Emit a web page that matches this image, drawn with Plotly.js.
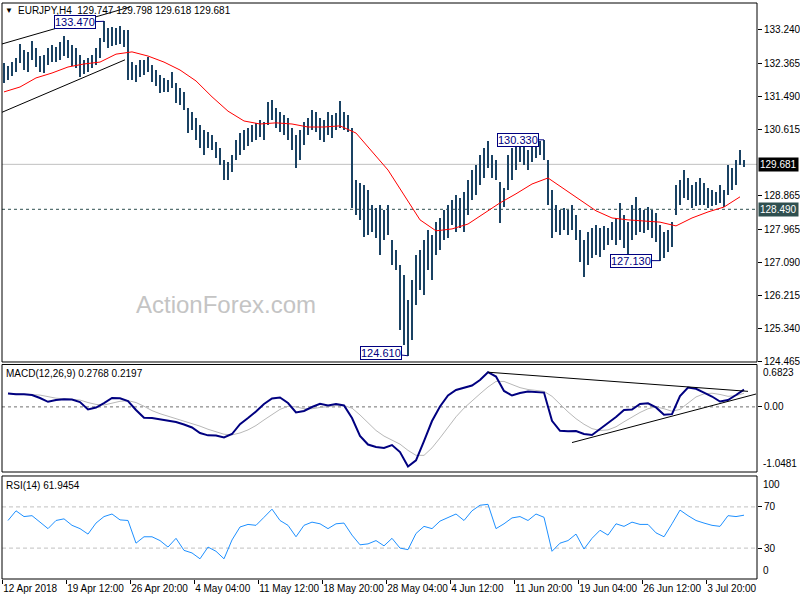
<!DOCTYPE html>
<html><head><meta charset="utf-8">
<script src="https://cdn.plot.ly/plotly-3.0.1.min.js"></script>
<style>html,body{margin:0;padding:0;background:#fff}#chart{width:800px;height:600px}</style>
</head><body><div id="chart"></div>
<script>
// EURJPY H4 bars (high / low), one per bar
const barHigh=[
132.37,132.29,132.39,132.50,132.87,132.71,132.66,132.95,132.76,132.55,
132.58,132.76,132.84,132.79,132.92,133.08,132.98,132.84,132.76,132.58,
132.45,132.50,132.58,132.76,133.03,133.47,133.29,133.32,133.29,133.35,
133.24,133.24,132.39,132.31,132.45,132.45,132.53,132.31,132.18,132.05,
131.97,131.92,132.13,131.84,131.70,131.60,131.17,131.07,130.91,130.72,
130.59,130.54,130.46,130.27,130.11,129.80,129.74,129.93,130.33,130.51,
130.59,130.64,130.72,130.78,130.86,130.80,131.33,131.39,131.17,131.07,
130.99,130.91,130.64,130.46,130.59,130.80,130.91,131.12,131.07,130.91,
130.86,131.07,130.99,131.04,131.36,131.07,130.99,130.64,129.27,129.19,
129.13,129.00,128.60,128.53,128.60,128.47,128.60,127.68,127.41,127.02,
126.75,126.09,126.62,127.28,127.41,127.68,127.94,127.81,128.15,128.26,
128.47,128.60,128.74,128.87,128.79,128.95,129.27,129.53,129.66,129.93,
130.11,130.30,129.93,129.80,129.21,129.06,129.93,130.11,130.25,130.31,
130.19,130.06,130.19,130.28,130.30,130.33,129.80,129.00,128.60,128.47,
128.53,128.47,128.60,128.34,127.94,127.68,127.89,128.00,128.07,128.00,
128.05,128.00,128.15,128.26,128.66,128.34,128.15,128.60,128.82,128.53,
128.47,128.55,128.47,128.39,128.07,127.89,127.94,128.15,129.13,129.27,
129.53,129.32,129.13,129.21,129.32,129.19,129.06,129.00,128.95,129.13,
129.00,129.66,129.58,129.80,130.06,129.80];
const barLow=[
131.84,131.92,132.02,132.13,132.37,132.18,132.13,132.45,132.26,132.13,
132.10,132.31,132.39,132.39,132.45,132.55,132.50,132.29,132.23,132.00,
132.08,132.13,132.23,132.31,132.50,132.92,132.76,132.82,132.84,132.87,
132.79,131.92,131.92,131.86,132.00,132.05,132.13,131.86,131.76,131.57,
131.60,131.60,131.70,131.31,131.25,131.12,130.51,130.59,130.33,130.11,
129.93,130.11,130.06,129.85,129.66,129.27,129.27,129.48,129.80,129.93,
130.06,130.17,130.27,130.33,130.41,130.33,130.72,130.86,130.64,130.54,
130.46,130.33,130.06,129.58,129.80,130.19,130.46,130.59,130.54,130.33,
130.27,130.46,130.38,130.59,130.64,130.59,130.54,128.53,128.34,128.21,
127.76,127.81,127.89,127.73,127.28,127.68,127.81,127.02,126.88,125.29,
124.90,124.61,125.03,125.96,126.35,126.22,126.88,126.62,127.28,127.41,
127.68,127.73,128.07,127.89,128.00,127.89,128.34,128.74,128.87,129.13,
129.32,129.58,129.32,129.27,128.13,128.55,129.00,129.27,129.53,129.74,
129.66,129.53,129.74,129.85,129.93,129.80,128.60,127.73,127.89,127.81,
127.94,127.81,127.94,127.68,127.10,126.70,127.02,127.20,127.28,127.23,
127.41,127.54,127.68,127.54,127.68,127.47,127.20,127.68,127.81,127.89,
127.86,127.94,127.73,127.62,127.13,127.20,127.36,127.49,128.34,128.60,
128.79,128.74,128.53,128.58,128.60,128.60,128.53,128.58,128.60,128.66,
128.55,128.87,129.00,129.13,129.66,129.62];
// moving average (red), one value every 4 bars
const maLine=[131.60,131.73,131.97,132.10,132.26,132.34,132.39,132.60,132.66,132.55,
132.39,132.18,131.89,131.47,131.09,130.83,130.75,130.78,130.75,130.67,
130.67,130.70,130.51,130.01,129.53,128.87,128.21,127.92,127.97,128.10,
128.39,128.66,128.90,129.16,129.32,129.03,128.76,128.45,128.26,128.21,
128.18,128.15,128.05,128.26,128.42,128.55,128.82];
// MACD(12,26,9) main and signal, one value every 2 bars
const macdMain=[0.215,0.202,0.204,0.191,0.143,0.082,0.111,0.124,0.119,0.078,
-0.042,-0.010,0.062,0.143,0.140,0.095,-0.050,-0.176,-0.179,-0.198,
-0.219,-0.244,-0.284,-0.332,-0.421,-0.458,-0.461,-0.493,-0.437,-0.277,
-0.179,-0.075,0.046,0.135,0.151,0.062,-0.089,-0.066,-0.002,0.049,
0.022,0.046,0.022,-0.179,-0.469,-0.606,-0.646,-0.662,-0.614,-0.727,
-0.960,-0.860,-0.550,-0.228,0.006,0.183,0.272,0.310,0.344,0.433,
0.558,0.489,0.256,0.183,0.223,0.248,0.235,0.230,-0.224,-0.385,
-0.392,-0.389,-0.437,-0.453,-0.356,-0.260,-0.163,-0.050,-0.042,0.046,
0.057,-0.009,-0.126,-0.117,0.175,0.312,0.291,0.231,0.167,0.086,
0.111,0.191,0.2768];
const macdSignal=[0.22,0.21,0.205,0.20,0.19,0.165,0.14,0.13,0.125,0.11,
0.07,0.04,0.03,0.06,0.09,0.10,0.07,0.01,-0.06,-0.11,
-0.15,-0.19,-0.22,-0.26,-0.31,-0.36,-0.40,-0.44,-0.45,-0.42,
-0.37,-0.30,-0.21,-0.12,-0.04,0.01,0.00,-0.03,-0.03,-0.01,
0.01,0.02,0.02,-0.02,-0.13,-0.26,-0.38,-0.47,-0.54,-0.60,
-0.70,-0.78,-0.78,-0.66,-0.50,-0.33,-0.16,-0.02,0.10,0.21,
0.32,0.41,0.41,0.36,0.31,0.28,0.26,0.25,0.17,0.04,
-0.08,-0.19,-0.28,-0.35,-0.38,-0.37,-0.32,-0.24,-0.16,-0.09,
-0.03,0.00,-0.03,-0.07,-0.04,0.06,0.16,0.21,0.22,0.20,
0.17,0.18,0.2197];
// RSI(14), one value every 2 bars
const rsi14=[56.8,66.2,60.6,61.5,55.2,48.9,56.8,58.4,52.1,48.9,
43.6,54.3,60.6,63.1,57.4,56.8,34.8,41.0,41.0,37.3,
31.0,39.5,27.8,25.3,19.6,31.0,26.9,19.6,37.9,50.5,
53.0,52.1,59.9,67.8,56.8,52.1,41.0,52.1,55.2,53.6,
48.9,53.6,54.3,42.6,33.2,34.1,37.3,32.2,39.5,30.0,
28.5,44.2,51.1,48.9,56.2,59.9,63.1,56.8,66.2,71.6,
72.5,48.9,53.6,59.3,60.6,56.8,63.1,59.9,26.9,34.8,
37.3,43.6,29.1,39.5,47.3,42.6,53.6,51.1,55.2,53.0,
53.0,44.8,41.0,53.6,66.9,61.5,56.8,54.3,52.1,51.1,
61.5,60.6,61.95];
const xTickLabels=['12 Apr 2018','19 Apr 12:00','26 Apr 20:00','4 May 04:00','11 May 12:00','18 May 20:00','28 May 04:00','4 Jun 12:00','11 Jun 20:00','19 Jun 04:00','26 Jun 12:00','3 Jul 20:00'];
const xTickBars=[-0.33,15.67,31.67,47.67,63.67,79.67,95.67,111.67,127.67,143.67,159.67,175.67];
const priceTicks=[133.240,132.365,131.490,130.615,128.865,127.965,127.090,126.215,125.340,124.465];
const lastPrice=129.681, supportLevel=128.490;
const headerText='EURJPY,H4  129.747 129.798 129.618 129.681';
const macdTitle='MACD(12,26,9) 0.2768 0.2197';
const rsiTitle='RSI(14) 61.9454';
const swingBars=[25,135,101,164];
const swingPrices=[133.470,130.330,124.610,127.130];
const channelUpper={bars:[-0.5,31.5],prices:[132.87,133.85]};
const channelLower={bars:[-0.5,30.25],prices:[131.06,132.45]};
const macdUpper={bars:[121,186],vals:[0.558,0.25]};
const macdLower={bars:[142,188],vals:[-0.574,0.207]};

const FONT='Liberation Sans, Arial, sans-serif';
const barIdx=barHigh.map((_,i)=>i);
const traces=[
 {type:'bar',x:barIdx,base:barLow,y:barHigh.map((h,i)=>h-barLow[i]),width:0.5,
  marker:{color:'#1a4263',line:{width:0}},xaxis:'x',yaxis:'y'},
 {type:'scatter',mode:'lines',x:maLine.map((_,k)=>4*k),y:maLine,line:{color:'#ff0000',width:1},xaxis:'x',yaxis:'y'},
 {type:'scatter',mode:'lines',x:channelUpper.bars,y:channelUpper.prices,line:{color:'#000',width:1},xaxis:'x',yaxis:'y'},
 {type:'scatter',mode:'lines',x:channelLower.bars,y:channelLower.prices,line:{color:'#000',width:1},xaxis:'x',yaxis:'y'},
 {type:'scatter',mode:'lines',x:macdSignal.map((_,k)=>1+2*k),y:macdSignal,line:{color:'#b8b8b8',width:1},xaxis:'x',yaxis:'y2'},
 {type:'scatter',mode:'lines',x:macdMain.map((_,k)=>1+2*k),y:macdMain,line:{color:'#000080',width:2},xaxis:'x',yaxis:'y2'},
 {type:'scatter',mode:'lines',x:macdUpper.bars,y:macdUpper.vals,line:{color:'#000',width:1},xaxis:'x',yaxis:'y2'},
 {type:'scatter',mode:'lines',x:macdLower.bars,y:macdLower.vals,line:{color:'#000',width:1},xaxis:'x',yaxis:'y2'},
 {type:'scatter',mode:'lines',x:rsi14.map((_,k)=>1+2*k),y:rsi14,line:{color:'#1e90ff',width:1},xaxis:'x',yaxis:'y3'}
];
const axBase={showgrid:false,zeroline:false,ticks:'outside',ticklen:4,tickcolor:'#000',tickfont:{family:FONT,size:10,color:'#000'},fixedrange:true};
const shapes=[
 {type:'line',xref:'x domain',x0:0,x1:1,yref:'y',y0:lastPrice,y1:lastPrice,line:{color:'#c0c0c0',width:1},layer:'below'},
 {type:'line',xref:'x domain',x0:0,x1:1,yref:'y',y0:supportLevel,y1:supportLevel,line:{color:'#2f4f4f',width:1,dash:'3px,3px'},layer:'below'},
 {type:'line',xref:'x domain',x0:0,x1:1,yref:'y2',y0:0,y1:0,line:{color:'#707070',width:1,dash:'3px,3px'},layer:'below'},
 {type:'line',xref:'x domain',x0:0,x1:1,yref:'y3',y0:70,y1:70,line:{color:'#c0c0c0',width:1,dash:'4px,3px'},layer:'below'},
 {type:'line',xref:'x domain',x0:0,x1:1,yref:'y3',y0:30,y1:30,line:{color:'#c0c0c0',width:1,dash:'4px,3px'},layer:'below'},
 {type:'rect',xref:'x domain',x0:0,x1:1,yref:'y domain',y0:0,y1:1,line:{color:'#000',width:1}},
 {type:'rect',xref:'x domain',x0:0,x1:1,yref:'y2 domain',y0:0,y1:1,line:{color:'#000',width:1}},
 {type:'rect',xref:'x domain',x0:0,x1:1,yref:'y3 domain',y0:0,y1:1,line:{color:'#000',width:1}}
];
const ann=[
 {xref:'paper',yref:'paper',x:0,y:1,xanchor:'left',yanchor:'top',xshift:1,yshift:-1,text:'▼',showarrow:false,font:{family:FONT,size:8,color:'#000'}},
 {xref:'paper',yref:'paper',x:0,y:1,xanchor:'left',yanchor:'top',xshift:14,yshift:0,text:headerText,showarrow:false,font:{family:FONT,size:10,color:'#000'}},
 {xref:'paper',yref:'y2 domain',x:0,y:1,xanchor:'left',yanchor:'top',xshift:2,yshift:-2,text:macdTitle,showarrow:false,font:{family:FONT,size:10,color:'#000'}},
 {xref:'paper',yref:'y3 domain',x:0,y:1,xanchor:'left',yanchor:'top',xshift:2,yshift:-2,text:rsiTitle,showarrow:false,font:{family:FONT,size:10,color:'#000'}},
 {xref:'paper',yref:'paper',x:0.2967,y:0.4774,xanchor:'center',yanchor:'middle',text:'ActionForex.com',showarrow:false,font:{family:FONT,size:24,color:'#c4c4c4'}},
 {xref:'paper',yref:'y',x:1,y:lastPrice,xanchor:'left',xshift:1,text:lastPrice.toFixed(3),showarrow:false,bgcolor:'#000',borderpad:1,font:{family:FONT,size:10,color:'#fff'}},
 {xref:'paper',yref:'y',x:1,y:supportLevel,xanchor:'left',xshift:1,text:supportLevel.toFixed(3),showarrow:false,bgcolor:'#2f4f4f',borderpad:1,font:{family:FONT,size:10,color:'#fff'}},
 {xref:'paper',yref:'y2',x:1,y:0.6823,xanchor:'left',yanchor:'top',xshift:4,yshift:-1,text:'0.6823',showarrow:false,font:{family:FONT,size:10,color:'#000'}},
 {xref:'paper',yref:'y2',x:1,y:-1.0481,xanchor:'left',yanchor:'bottom',xshift:4,yshift:1,text:'-1.0481',showarrow:false,font:{family:FONT,size:10,color:'#000'}},
 {xref:'paper',yref:'y3',x:1,y:100,xanchor:'left',yanchor:'top',xshift:4,yshift:-1,text:'100',showarrow:false,font:{family:FONT,size:10,color:'#000'}},
 {xref:'paper',yref:'y3',x:1,y:0,xanchor:'left',yanchor:'bottom',xshift:4,yshift:1,text:'0',showarrow:false,font:{family:FONT,size:10,color:'#000'}}
];
const swingOffsets=[[-29,1],[-26,0],[-27,-3],[-29,0]];
swingBars.forEach((b,i)=>{
 ann.push({xref:'x',yref:'y',x:b,y:swingPrices[i],text:swingPrices[i].toFixed(3),showarrow:true,arrowhead:0,arrowwidth:1,arrowcolor:'#000080',
  ax:swingOffsets[i][0],ay:swingOffsets[i][1],standoff:0,bgcolor:'#fff',bordercolor:'#000080',borderwidth:1,borderpad:0,
  font:{family:FONT,size:11,color:'#000080'}});
});
const layout={
 width:800,height:600,margin:{l:2,r:43,t:3,b:21},paper_bgcolor:'#fff',plot_bgcolor:'#fff',showlegend:false,hovermode:false,
 font:{family:FONT,size:10,color:'#000'},bargap:0,
 xaxis:Object.assign({},axBase,{range:[-0.5,188.25],anchor:'y3',tickvals:xTickBars,ticktext:xTickLabels,tickangle:0,ticklabelposition:'outside right'}),
 yaxis:Object.assign({},axBase,{domain:[0.37674,1],range:[124.445,133.955],side:'right',anchor:'x',tickvals:priceTicks,ticktext:priceTicks.map(v=>v.toFixed(3))}),
 yaxis2:Object.assign({},axBase,{domain:[0.18576,0.3724],range:[-1.0481,0.6823],side:'right',anchor:'x',tickvals:[0],ticktext:['0.00']}),
 yaxis3:Object.assign({},axBase,{domain:[0,0.17882],range:[0,100],side:'right',anchor:'x',tickvals:[70,30],ticktext:['70','30']}),
 shapes:shapes,annotations:ann
};
Plotly.newPlot('chart',traces,layout,{staticPlot:true,displayModeBar:false});
</script></body></html>
